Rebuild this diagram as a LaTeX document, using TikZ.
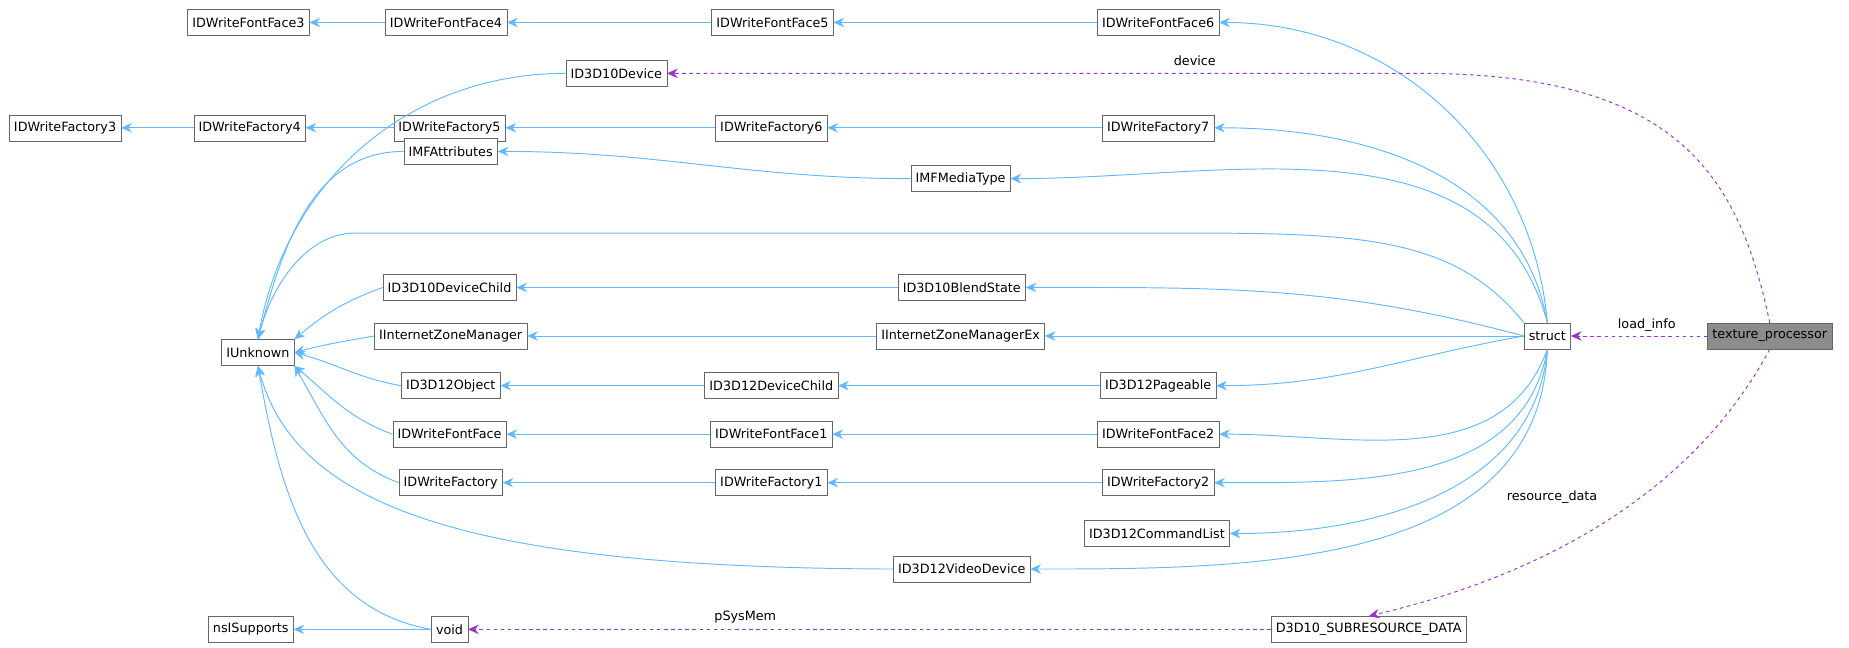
\documentclass[tikz,border=0pt]{standalone}
\usepackage{fontspec}
\setmainfont{DejaVu Sans}
\usetikzlibrary{arrows.meta,positioning}
\definecolor{inhblue}{HTML}{63B8FF}
\definecolor{usepurple}{HTML}{9A32CD}
\tikzset{
  cls/.style = {draw = black!60, fill = white, font = \fontsize{10.8}{12}\selectfont,
    inner xsep = 4pt, minimum height = 22pt},
  inh/.style = {-{Stealth[length = 9pt, width = 8pt]}, draw = inhblue, thick},
  use/.style = {-{Stealth[length = 9pt, width = 8pt]}, draw = usepurple, dashed, thick},
  lbl/.style = {font = \fontsize{10.8}{12}\selectfont, inner sep = 1pt}
}

\begin{document}
\begin{tikzpicture}[x = 1pt, y = -1pt]
  \useasboundingbox (0,0) rectangle (1563,547);
  % classes
  \node[cls] (ff3) at (210,19) {IDWriteFontFace3};
  \node[cls] (ff4) at (377,19) {IDWriteFontFace4};
  \node[cls] (ff5) at (653,19) {IDWriteFontFace5};
  \node[cls] (ff6) at (979,19) {IDWriteFontFace6};
  \node[cls] (dev) at (521,62) {ID3D10Device};
  \node[cls] (fa3) at (55,108) {IDWriteFactory3};
  \node[cls] (fa4) at (211,108) {IDWriteFactory4};
  \node[cls] (fa5) at (380,108) {IDWriteFactory5};
  \node[cls] (fa6) at (652,108) {IDWriteFactory6};
  \node[cls] (fa7) at (979,108) {IDWriteFactory7};
  \node[cls] (mfa) at (381,128) {IMFAttributes};
  \node[cls] (mft) at (812,151) {IMFMediaType};
  \node[cls] (dch) at (380,243) {ID3D10DeviceChild};
  \node[cls] (bls) at (813,243) {ID3D10BlendState};
  \node[cls] (izm) at (381,284) {IInternetZoneManager};
  \node[cls] (izx) at (812,284) {IInternetZoneManagerEx};
  \node[cls] (unk) at (218,298) {IUnknown};
  \node[cls] (str) at (1308,284) {struct};
  \node[cls, fill = black!45] (tp) at (1496,284) {texture\_processor};
  \node[cls] (obj) at (381,326) {ID3D12Object};
  \node[cls] (dc12) at (652,326) {ID3D12DeviceChild};
  \node[cls] (pag) at (979,326) {ID3D12Pageable};
  \node[cls] (ff) at (380,367) {IDWriteFontFace};
  \node[cls] (ff1) at (652,367) {IDWriteFontFace1};
  \node[cls] (ff2) at (979,367) {IDWriteFontFace2};
  \node[cls] (fa) at (381,408) {IDWriteFactory};
  \node[cls] (fa1) at (652,408) {IDWriteFactory1};
  \node[cls] (fa2) at (979,408) {IDWriteFactory2};
  \node[cls] (cl) at (978,451) {ID3D12CommandList};
  \node[cls] (vd) at (813,481) {ID3D12VideoDevice};
  \node[cls] (nss) at (212,532) {nsISupports};
  \node[cls] (vo) at (380,532) {void};
  \node[cls] (srd) at (1157,532) {D3D10\_SUBRESOURCE\_DATA};
  % inheritance chains
  \draw[inh] (ff4) -- (ff3);
  \draw[inh] (ff5) -- (ff4);
  \draw[inh] (ff6) -- (ff5);
  \draw[inh] (fa4) -- (fa3);
  \draw[inh] (fa5) -- (fa4);
  \draw[inh] (fa6) -- (fa5);
  \draw[inh] (fa7) -- (fa6);
  \draw[inh] (mft.west) to[out = 180, in = 0] (mfa.east);
  \draw[inh] (bls) -- (dch);
  \draw[inh] (izx) -- (izm);
  \draw[inh] (dc12) -- (obj);
  \draw[inh] (pag) -- (dc12);
  \draw[inh] (ff1) -- (ff);
  \draw[inh] (ff2) -- (ff1);
  \draw[inh] (fa1) -- (fa);
  \draw[inh] (fa2) -- (fa1);
  \draw[inh] (vo) -- (nss);
  % into IUnknown
  \draw[inh] (dev.west) to[out = 180, in = 80] (unk.north);
  \draw[inh] (mfa.west) to[out = 180, in = 75] (unk.north);
  \draw[inh] (dch.west) to[out = 200, in = 40] (unk.north east);
  \draw[inh] (izm.west) to[out = 190, in = 15] (unk.east);
  \draw[inh] (obj.west) to[out = 170, in = -15] (unk.east);
  \draw[inh] (ff.west) to[out = 160, in = -40] (unk.south east);
  \draw[inh] (fa.west) to[out = 160, in = -60] (unk.south east);
  \draw[inh] (vd.west) .. controls (400,480) and (250,430) .. (unk.south);
  \draw[inh] (vo.west) to[out = 170, in = -80] (unk.south);
  % into struct's bases
  \draw[inh] (str.north) to[out = 95, in = 0] (ff6.east);
  \draw[inh] (str.north) to[out = 100, in = 0] (fa7.east);
  \draw[inh] (str.north) to[out = 105, in = 0] (mft.east);
  \draw[inh] (str.north west) .. controls (1230,200) and (1150,197) .. (1000,197)
    -- (300,197) .. controls (260,197) and (230,240) .. (unk.north);
  \draw[inh] (str.west) to[out = 165, in = 0] (bls.east);
  \draw[inh] (str) -- (izx);
  \draw[inh] (str.west) to[out = 190, in = 0] (pag.east);
  \draw[inh] (str.south) to[out = 250, in = 0] (ff2.east);
  \draw[inh] (str.south) to[out = 260, in = 0] (fa2.east);
  \draw[inh] (str.south) to[out = 265, in = 0] (cl.east);
  \draw[inh] (str.south) to[out = 268, in = 0] (vd.east);
  % members
  \draw[use] (tp.north) .. controls (1470,150) and (1420,62) .. (1200,62) -- (dev.east);
  \draw[use] (tp) -- (str);
  \draw[use] (tp.south) .. controls (1440,400) and (1330,480) .. (srd.north);
  \draw[use] (srd) -- (vo);
  \node[lbl] (lbdev) at (1010,51) {device};
  \node[lbl] (lbload) at (1392,275) {load\_info};
  \node[lbl] (lbres) at (1312,420) {resource\_data};
  \node[lbl] (lbsys) at (630,522) {pSysMem};
\end{tikzpicture}
\end{document}
